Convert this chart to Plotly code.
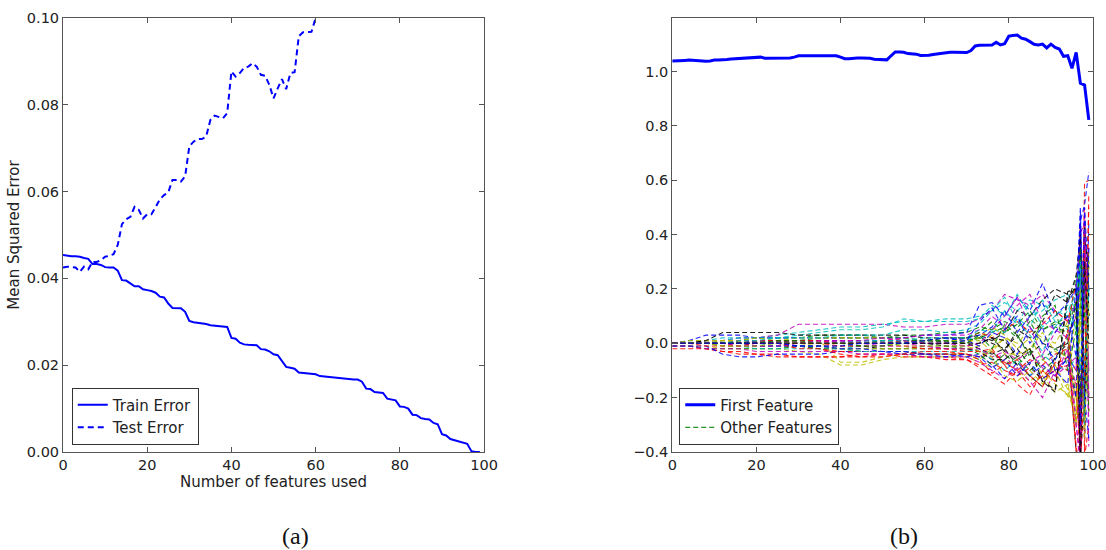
import plotly.graph_objects as go

# ---------------- data: panel (a) ----------------
train_error = [
    0.0454, 0.0452, 0.0451, 0.0451, 0.0450, 0.0447, 0.0445, 0.0433, 0.0433, 0.0431,
    0.0426, 0.0425, 0.0425, 0.0418, 0.0396, 0.0395, 0.0388, 0.0382, 0.0382, 0.0375,
    0.0373, 0.0371, 0.0367, 0.0358, 0.0356, 0.0342, 0.0332, 0.0332, 0.0331, 0.0323,
    0.0302, 0.0299, 0.0298, 0.0296, 0.0295, 0.0292, 0.0291, 0.0291, 0.0290, 0.0288,
    0.0263, 0.0261, 0.0252, 0.0248, 0.0247, 0.0247, 0.0246, 0.0237, 0.0236, 0.0232,
    0.0225, 0.0223, 0.0210, 0.0196, 0.0194, 0.0192, 0.0183, 0.0182, 0.0180, 0.0180,
    0.0179, 0.0175, 0.0174, 0.0172, 0.0171, 0.0170, 0.0169, 0.0169, 0.0168, 0.0167,
    0.0167, 0.0162, 0.0146, 0.0145, 0.0138, 0.0137, 0.0136, 0.0123, 0.0121, 0.0119,
    0.0105, 0.0104, 0.0100, 0.0086, 0.0085, 0.0078, 0.0076, 0.0075, 0.0067, 0.0064,
    0.0041, 0.0038, 0.0030, 0.0027, 0.0025, 0.0022, 0.0019, 0.0002, 0.0000, 0.0000,
]
test_error = [
    0.0425, 0.0427, 0.0426, 0.0425, 0.0415, 0.0427, 0.0421, 0.0438, 0.0438, 0.0442,
    0.0450, 0.0452, 0.0456, 0.0477, 0.0525, 0.0536, 0.0542, 0.0565, 0.0558, 0.0538,
    0.0548, 0.0548, 0.0564, 0.0582, 0.0592, 0.0598, 0.0627, 0.0627, 0.0623, 0.0635,
    0.0704, 0.0715, 0.0721, 0.0721, 0.0727, 0.0765, 0.0775, 0.0772, 0.0769, 0.0781,
    0.0877, 0.0865, 0.0873, 0.0885, 0.0888, 0.0896, 0.0888, 0.0869, 0.0867, 0.0846,
    0.0815, 0.0838, 0.0859, 0.0836, 0.0873, 0.0875, 0.0958, 0.0967, 0.0967, 0.0968,
    0.1000, 0.1030, 0.1060, 0.1080, 0.1120, 0.1150, 0.1170, 0.1210, 0.1240, 0.1260,
    0.1300, 0.1330, 0.1370, 0.1400, 0.1430, 0.1470, 0.1500, 0.1540, 0.1580, 0.1610,
    0.1650, 0.1690, 0.1720, 0.1760, 0.1810, 0.1850, 0.1890, 0.1940, 0.1980, 0.2030,
    0.2080, 0.2140, 0.2190, 0.2250, 0.2320, 0.2400, 0.2500, 0.2620, 0.2780, 0.3000,
]

# ---------------- data: panel (b) ----------------
first_feature = [
    1.039, 1.039, 1.040, 1.041, 1.042, 1.041, 1.040, 1.038, 1.038, 1.039,
    1.042, 1.042, 1.042, 1.044, 1.046, 1.047, 1.048, 1.049, 1.049, 1.049,
    1.050, 1.053, 1.049, 1.049, 1.049, 1.049, 1.049, 1.049, 1.050, 1.053,
    1.058, 1.058, 1.058, 1.058, 1.058, 1.058, 1.059, 1.059, 1.059, 1.058,
    1.053, 1.047, 1.047, 1.049, 1.050, 1.050, 1.050, 1.049, 1.045, 1.045,
    1.045, 1.043, 1.058, 1.072, 1.072, 1.071, 1.066, 1.065, 1.064, 1.059,
    1.059, 1.060, 1.063, 1.065, 1.068, 1.071, 1.071, 1.071, 1.071, 1.071,
    1.070, 1.077, 1.094, 1.097, 1.097, 1.097, 1.098, 1.108, 1.098, 1.102,
    1.130, 1.133, 1.134, 1.123, 1.119, 1.110, 1.100, 1.098, 1.101, 1.087,
    1.101, 1.089, 1.083, 1.056, 1.058, 1.012, 1.070, 0.957, 0.950, 0.822,
]

other_x = [0, 4, 8, 12, 16, 20, 25, 30, 35, 40, 45, 50, 55, 60, 65, 70,
           73, 76, 79, 82, 85, 88, 91, 94, 96, 97, 98, 99]

other_features = [
    [0.0, 0.0, 0.01, 0.01, 0.01, 0.02, 0.02, 0.02, 0.03, 0.03, 0.03, 0.02, 0.03, 0.03, 0.04, 0.04, 0.06, 0.05, 0.08, 0.06, 0.09, 0.05, 0.07, 0.1, 0.15, 0.3, 0.25, 0.1],
    [-0.01, -0.01, -0.02, -0.03, -0.04, -0.04, -0.04, -0.05, -0.05, -0.05, -0.05, -0.04, -0.04, -0.05, -0.05, -0.06, -0.08, -0.07, -0.1, -0.12, -0.09, -0.13, -0.1, -0.08, -0.2, -0.35, 0.59, 0.6],
    [0.0, 0.01, 0.01, 0.02, 0.02, 0.02, 0.03, 0.04, 0.05, 0.06, 0.06, 0.07, 0.08, 0.08, 0.09, 0.09, 0.1, 0.12, 0.15, 0.12, 0.16, 0.14, 0.12, 0.1, 0.05, 0.2, -0.1, 0.3],
    [0.0, 0.0, 0.01, 0.01, 0.02, 0.02, 0.03, 0.07, 0.07, 0.07, 0.07, 0.07, 0.06, 0.06, 0.07, 0.07, 0.09, 0.12, 0.18, 0.16, 0.14, 0.18, 0.12, 0.08, 0.15, 0.4, 0.45, -0.2],
    [-0.01, -0.01, -0.01, -0.02, -0.02, -0.02, -0.02, -0.03, -0.04, -0.08, -0.08, -0.06, -0.05, -0.05, -0.05, -0.05, -0.07, -0.09, -0.06, -0.1, -0.14, -0.1, -0.15, -0.19, -0.25, 0.1, 0.3, 0.2],
    [0.0, 0.0, 0.0, 0.0, 0.0, 0.005, 0.005, 0.01, 0.01, 0.01, 0.01, 0.01, 0.01, 0.01, 0.005, 0.01, 0.02, 0.0, -0.02, 0.03, -0.04, 0.0, -0.02, 0.0, -0.4, -0.45, 0.2, 0.1],
    [0.0, 0.01, 0.03, 0.03, 0.03, 0.02, 0.02, 0.02, 0.02, 0.02, 0.02, 0.02, 0.02, 0.03, 0.03, 0.04, 0.14, 0.15, 0.1, 0.17, 0.12, 0.22, 0.1, 0.15, 0.2, 0.45, 0.51, 0.63],
    [-0.01, -0.01, -0.02, -0.02, -0.02, -0.02, -0.02, -0.01, -0.01, -0.02, -0.03, -0.03, -0.03, -0.04, -0.04, -0.04, -0.06, -0.03, -0.08, -0.05, -0.1, -0.06, -0.02, -0.05, 0.1, -0.3, 0.25, -0.1],
    [-0.02, -0.02, -0.02, -0.03, -0.03, -0.04, -0.05, -0.05, -0.05, -0.05, -0.04, -0.04, -0.05, -0.05, -0.06, -0.06, -0.09, -0.12, -0.15, -0.1, -0.16, -0.12, -0.08, -0.05, -0.1, 0.44, -0.42, -0.3],
    [0.0, 0.0, 0.0, 0.01, 0.02, 0.02, 0.02, 0.03, 0.04, 0.05, 0.05, 0.06, 0.09, 0.08, 0.08, 0.08, 0.09, 0.14, 0.1, 0.18, 0.1, 0.12, 0.16, 0.18, 0.12, -0.1, 0.35, 0.4],
    [-0.01, -0.01, -0.02, -0.02, -0.02, -0.03, -0.03, -0.03, -0.03, -0.03, -0.04, -0.04, -0.04, -0.05, -0.05, -0.05, -0.07, -0.1, -0.13, -0.09, -0.14, -0.2, -0.1, -0.05, -0.15, -0.42, 0.5, -0.38],
    [0.0, 0.01, 0.01, 0.01, 0.01, 0.02, 0.01, 0.01, 0.01, -0.07, -0.07, -0.05, -0.04, -0.04, -0.04, -0.04, -0.06, -0.02, 0.02, -0.06, -0.02, -0.12, -0.18, -0.15, -0.3, 0.3, -0.2, 0.25],
    [0.0, 0.0, 0.01, 0.04, 0.04, 0.04, 0.04, 0.03, 0.03, 0.03, 0.03, 0.03, 0.03, 0.02, 0.02, 0.02, 0.03, 0.01, 0.04, 0.12, 0.1, 0.16, 0.2, 0.18, 0.2, -0.45, 0.45, 0.1],
    [-0.01, -0.01, -0.01, -0.04, -0.05, -0.05, -0.04, -0.04, -0.04, -0.03, -0.03, -0.03, -0.04, -0.04, -0.04, -0.05, -0.04, -0.08, -0.13, -0.07, -0.12, -0.08, -0.12, -0.05, -0.1, 0.35, -0.3, 0.45],
    [0.0, 0.0, 0.0, 0.0, 0.01, 0.01, 0.01, 0.01, 0.02, 0.02, 0.02, 0.02, 0.02, 0.01, 0.01, 0.01, 0.02, 0.04, 0.06, 0.02, 0.08, 0.0, 0.06, 0.04, 0.25, 0.2, -0.3, 0.35],
    [0.0, 0.0, 0.0, 0.0, -0.01, -0.01, -0.01, -0.01, -0.02, -0.03, -0.03, -0.03, -0.03, -0.04, -0.04, -0.04, -0.05, -0.03, -0.07, -0.1, -0.06, -0.08, -0.04, -0.02, -0.4, -0.45, 0.4, 0.1],
    [0.0, 0.0, 0.0, -0.01, -0.01, -0.02, -0.02, -0.02, -0.02, -0.02, -0.01, -0.01, 0.01, 0.01, 0.02, 0.02, 0.01, 0.05, 0.04, 0.09, 0.06, 0.16, 0.08, 0.05, 0.1, 0.25, -0.25, 0.15],
    [0.0, 0.0, 0.0, 0.0, 0.0, 0.01, 0.01, 0.01, 0.01, 0.01, 0.0, 0.0, 0.0, -0.01, -0.02, -0.02, -0.03, -0.06, -0.04, -0.11, -0.07, -0.04, 0.04, 0.1, -0.3, -0.42, 0.2, 0.35],
    [0.0, 0.0, 0.0, 0.01, 0.01, 0.01, 0.01, 0.02, 0.02, 0.02, 0.02, 0.02, 0.01, 0.0, 0.0, 0.0, 0.02, 0.06, 0.03, -0.02, 0.02, -0.06, -0.1, -0.2, 0.15, 0.1, 0.42, -0.1],
    [0.0, 0.0, 0.0, 0.0, 0.0, 0.0, 0.0, -0.01, -0.01, -0.01, -0.01, -0.02, -0.02, -0.02, -0.02, -0.02, -0.03, -0.06, -0.06, -0.02, -0.08, -0.14, -0.17, 0.17, 0.2, -0.2, 0.4, 0.25],
    [0.0, 0.0, 0.0, 0.0, 0.0, 0.01, 0.01, 0.01, 0.01, 0.01, 0.01, 0.01, 0.01, 0.01, 0.01, 0.02, 0.03, 0.06, 0.12, 0.04, 0.1, 0.15, 0.04, 0.1, -0.05, 0.48, -0.2, 0.35],
    [0.0, 0.0, 0.0, -0.01, -0.01, -0.01, -0.01, -0.01, -0.02, -0.02, -0.02, -0.02, -0.02, -0.01, -0.01, -0.02, -0.04, -0.08, -0.04, -0.08, -0.03, -0.1, -0.06, 0.02, -0.2, 0.15, 0.25, 0.05],
    [0.0, 0.0, 0.0, 0.0, 0.01, 0.01, 0.01, 0.01, 0.01, 0.0, 0.0, 0.0, 0.01, 0.01, 0.02, 0.02, 0.04, 0.02, 0.05, 0.08, 0.04, 0.07, 0.12, 0.08, 0.22, -0.3, 0.35, -0.25],
    [0.0, 0.0, 0.0, 0.0, 0.0, 0.0, -0.01, -0.01, -0.01, -0.02, -0.03, -0.03, -0.03, -0.03, -0.03, -0.03, -0.02, -0.06, -0.1, -0.06, -0.12, -0.04, -0.08, -0.1, -0.05, 0.3, -0.15, 0.2],
    [0.0, 0.0, 0.0, 0.0, 0.0, 0.0, 0.0, 0.0, 0.01, 0.01, 0.01, 0.01, 0.02, 0.03, 0.03, 0.03, 0.05, 0.1, 0.06, 0.14, 0.18, 0.08, 0.05, 0.02, 0.1, 0.2, 0.4, -0.3],
    [0.0, 0.0, 0.0, 0.0, 0.0, 0.0, 0.0, 0.0, -0.01, -0.02, -0.02, -0.02, -0.02, -0.02, -0.02, -0.02, -0.01, 0.03, -0.04, -0.04, -0.02, 0.04, -0.03, -0.05, -0.2, -0.35, 0.15, -0.2],
    [0.0, 0.0, 0.0, 0.0, 0.0, 0.0, 0.0, 0.0, 0.0, 0.0, 0.0, 0.0, 0.0, 0.0, 0.0, 0.0, -0.02, -0.04, -0.02, -0.08, -0.12, -0.16, -0.05, 0.0, 0.15, -0.42, -0.2, 0.3],
    [0.0, 0.0, 0.0, 0.0, 0.0, -0.01, -0.01, -0.01, -0.01, -0.02, -0.02, -0.03, -0.03, -0.04, -0.05, -0.04, -0.05, -0.09, -0.06, -0.12, -0.07, -0.13, -0.1, -0.06, -0.2, 0.44, -0.35, 0.2],
    [0.0, 0.0, 0.0, 0.0, 0.0, 0.0, 0.0, 0.0, 0.0, 0.0, 0.0, 0.01, 0.01, 0.01, 0.02, 0.02, 0.04, 0.08, 0.04, 0.07, 0.12, 0.05, 0.08, 0.06, 0.15, -0.2, 0.3, 0.1],
    [0.0, 0.0, 0.0, 0.0, 0.0, 0.0, 0.0, 0.0, 0.0, -0.01, -0.01, -0.01, -0.01, -0.02, -0.02, -0.03, -0.03, -0.02, -0.08, -0.06, -0.12, -0.16, -0.07, -0.1, -0.15, -0.44, -0.4, 0.55],
    [0.0, 0.0, 0.0, 0.0, 0.0, 0.0, 0.0, 0.0, 0.0, 0.0, 0.01, 0.01, 0.01, 0.02, 0.02, 0.02, 0.05, 0.04, 0.12, 0.07, 0.15, 0.06, 0.1, 0.14, 0.05, -0.1, 0.2, -0.15],
    [0.0, 0.0, 0.0, 0.0, 0.0, 0.0, 0.0, 0.0, 0.0, 0.0, 0.0, -0.01, -0.01, -0.01, -0.02, -0.02, -0.02, -0.05, -0.03, -0.06, -0.03, -0.09, -0.12, -0.08, -0.05, -0.4, 0.3, -0.1],
    [0.0, 0.0, 0.0, 0.0, 0.0, 0.0, 0.0, 0.0, 0.0, 0.0, 0.0, 0.0, 0.0, 0.01, 0.01, 0.01, 0.01, -0.03, 0.02, 0.0, 0.05, 0.02, 0.0, 0.08, -0.3, 0.2, -0.1, 0.3],
    [0.0, 0.0, 0.0, 0.0, 0.0, 0.0, 0.0, 0.0, 0.0, 0.0, 0.0, 0.0, 0.0, 0.0, -0.01, -0.01, 0.0, 0.02, -0.03, 0.05, 0.02, 0.08, 0.18, 0.15, 0.25, 0.4, -0.3, 0.2],
    [0.0, 0.0, 0.0, 0.0, 0.0, 0.0, 0.0, 0.0, 0.0, 0.0, 0.0, 0.0, 0.0, 0.0, 0.0, 0.01, -0.01, 0.04, 0.02, -0.04, 0.06, 0.0, -0.06, 0.03, 0.1, 0.5, -0.2, -0.35],
    [0.0, 0.0, 0.0, 0.0, 0.0, 0.0, 0.01, 0.01, 0.0, 0.0, -0.01, -0.01, 0.0, 0.01, 0.01, 0.0, 0.03, -0.02, 0.07, 0.03, -0.05, 0.1, 0.14, -0.1, 0.05, 0.35, 0.1, -0.25],
    [0.0, 0.0, -0.01, -0.01, -0.01, 0.0, 0.0, -0.02, -0.02, -0.04, -0.05, -0.05, -0.04, -0.03, -0.03, -0.04, -0.06, -0.11, -0.08, -0.15, -0.19, -0.1, -0.14, 0.05, -0.38, -0.46, -0.1, 0.5],
    [0.0, 0.0, 0.0, 0.0, 0.01, 0.01, 0.02, 0.02, 0.02, 0.03, 0.03, 0.03, 0.05, 0.05, 0.04, 0.05, 0.07, 0.12, 0.17, 0.08, 0.03, -0.03, 0.06, 0.12, 0.18, 0.3, -0.3, 0.2],
    [0.0, 0.0, 0.0, 0.0, -0.01, -0.01, -0.01, 0.0, 0.0, 0.01, 0.01, 0.02, 0.01, 0.0, 0.0, -0.01, 0.0, 0.05, 0.1, 0.17, 0.06, -0.05, -0.12, -0.02, -0.3, -0.46, 0.48, -0.2],
    [0.0, 0.0, 0.0, -0.01, -0.01, -0.01, 0.0, 0.0, 0.0, 0.0, 0.0, 0.0, -0.01, -0.01, -0.01, -0.01, -0.03, -0.05, -0.12, -0.14, -0.1, -0.15, -0.08, -0.17, -0.28, 0.1, -0.35, 0.15],
    [0.0, 0.0, 0.0, 0.0, 0.0, 0.0, 0.0, 0.0, 0.0, 0.0, 0.0, 0.0, 0.0, 0.0, 0.0, 0.0, 0.0, 0.02, 0.01, -0.05, -0.02, -0.14, -0.18, 0.19, 0.2, -0.45, 0.3, 0.0],
    [0.0, 0.0, 0.0, 0.0, 0.0, 0.0, 0.0, -0.01, -0.01, -0.01, 0.0, 0.0, 0.0, 0.01, 0.02, 0.01, 0.08, 0.13, 0.05, 0.1, 0.0, 0.06, -0.1, -0.15, 0.22, -0.3, 0.5, 0.2],
]

# matplotlib classic colour cycle, starting after the blue first feature
cycle_colors = ["#008000", "#ff0000", "#00bfbf", "#bf00bf", "#bfbf00", "#000000", "#0000ff"]

x_ticks = [0, 20, 40, 60, 80, 100]
left_y_ticks = [0.0, 0.02, 0.04, 0.06, 0.08, 0.10]
right_y_ticks = [-0.4, -0.2, 0.0, 0.2, 0.4, 0.6, 0.8, 1.0]

FONT = "DejaVu Sans"
AX_COL = "#555555"

fig = go.Figure()

# panel (a)
fig.add_trace(go.Scatter(
    x=list(range(len(train_error))), y=train_error, mode="lines", name="Train Error",
    line=dict(color="#0000ff", width=2), xaxis="x", yaxis="y", legend="legend"))
fig.add_trace(go.Scatter(
    x=list(range(len(test_error))), y=test_error, mode="lines", name="Test Error",
    line=dict(color="#0000ff", width=2, dash="6px,4px"), xaxis="x", yaxis="y", legend="legend"))

# panel (b)
fig.add_trace(go.Scatter(
    x=list(range(len(first_feature))), y=first_feature, mode="lines", name="First Feature",
    line=dict(color="#0000ff", width=3), xaxis="x2", yaxis="y2", legend="legend2"))
for i, vals in enumerate(other_features):
    fig.add_trace(go.Scatter(
        x=other_x, y=vals, mode="lines", name="Other Features",
        showlegend=(i == 0), opacity=0.85,
        line=dict(color=cycle_colors[i % len(cycle_colors)], width=1.1, dash="5px,3px"),
        xaxis="x2", yaxis="y2", legend="legend2"))

axis_common = dict(
    showline=True, linecolor=AX_COL, linewidth=1, mirror="ticks",
    ticks="inside", ticklen=5, tickcolor=AX_COL, tickwidth=1,
    showgrid=False, zeroline=False, automargin=False, ticklabeloverflow="allow",
    tickfont=dict(family=FONT, size=14.5, color="#222222"),
)

# plot area: paper spans x 63..1093 px, y 18..452 px
fig.update_layout(
    width=1106, height=550,
    margin=dict(l=63, r=13, t=18, b=98, autoexpand=False),
    paper_bgcolor="white", plot_bgcolor="white",
    font=dict(family=FONT, color="#222222"),
    xaxis=dict(domain=[0.0, 0.4088], range=[0, 100], tickvals=x_ticks,
               title=dict(text="Number of features used", font=dict(family=FONT, size=15), standoff=1),
               anchor="y", **axis_common),
    yaxis=dict(domain=[0.0, 1.0], range=[0, 0.1], tickvals=left_y_ticks, tickformat=".2f",
               title=dict(text="Mean Squared Error", font=dict(family=FONT, size=15), standoff=3),
               anchor="x", **axis_common),
    xaxis2=dict(domain=[0.5915, 1.0], range=[0, 100], tickvals=x_ticks, anchor="y2", **axis_common),
    yaxis2=dict(domain=[0.0, 1.0], range=[-0.4, 1.197], tickvals=right_y_ticks, tickformat=".1f",
                anchor="x2", **axis_common),
    legend=dict(x=0.0085, y=0.0170, xanchor="left", yanchor="bottom",
                bgcolor="white", bordercolor="#333333", borderwidth=1,
                font=dict(family=FONT, size=15, color="#222222"), tracegroupgap=0),
    legend2=dict(x=0.5983, y=0.0170, xanchor="left", yanchor="bottom",
                 bgcolor="white", bordercolor="#333333", borderwidth=1,
                 font=dict(family=FONT, size=15, color="#222222"), tracegroupgap=0),
    annotations=[
        dict(text="(a)", x=0.2262, y=-0.194, xref="paper", yref="paper", showarrow=False,
             xanchor="center", yanchor="middle", font=dict(family="Liberation Serif", size=24, color="#111111")),
        dict(text="(b)", x=0.8165, y=-0.194, xref="paper", yref="paper", showarrow=False,
             xanchor="center", yanchor="middle", font=dict(family="Liberation Serif", size=24, color="#111111")),
    ],
)

fig.write_html("out.html")
